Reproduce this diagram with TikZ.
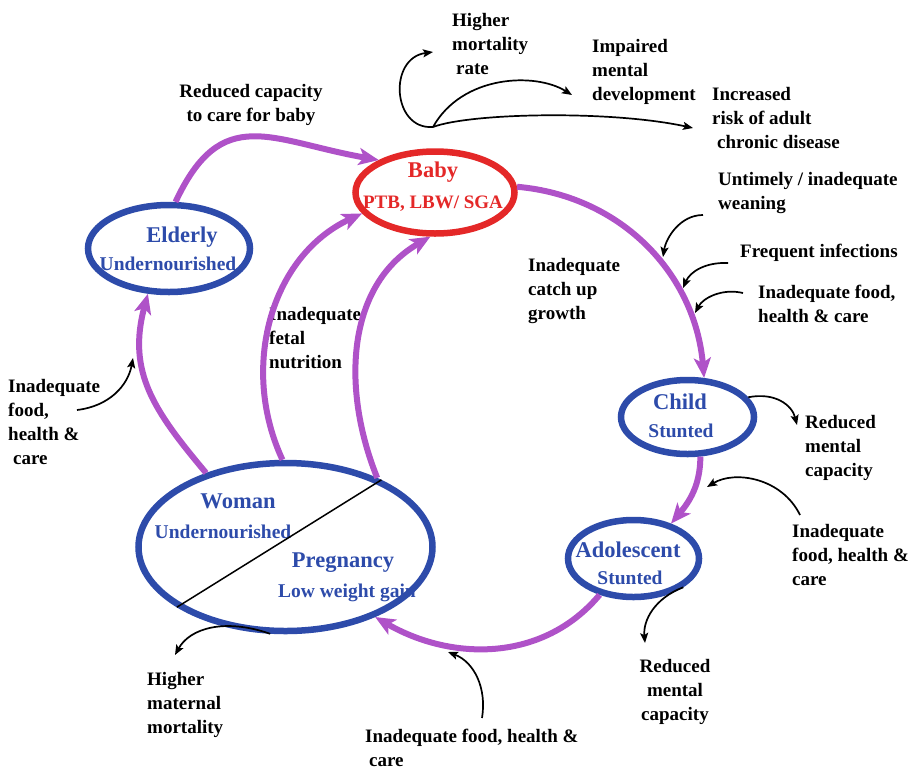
\documentclass[tikz,border=0pt]{standalone}
\usepackage{fontspec}
\setmainfont{Liberation Serif}
\usetikzlibrary{arrows.meta,shapes.geometric}
\definecolor{cycblue}{RGB}{45,75,170}
\definecolor{cycred}{RGB}{228,40,40}
\definecolor{cycpurple}{RGB}{175,82,200}
\begin{document}
\begin{tikzpicture}[x=1pt,y=-1pt,
    lbl/.style={font=\bfseries\fontsize{19}{24}\selectfont,align=left,anchor=base west,inner sep=0},
    ttl/.style={font=\bfseries\fontsize{22.5}{26}\selectfont,text=cycblue,anchor=base,inner sep=0},
    sub/.style={font=\bfseries\fontsize{19.5}{24}\selectfont,text=cycblue,anchor=base,inner sep=0},
    stage/.style={ellipse,draw=cycblue,line width=6.5pt,inner sep=0},
    cyc/.style={draw=cycpurple,line width=6pt,-{Stealth[length=20pt,width=17pt,inset=5pt]}},
    eff/.style={draw=black,line width=1.7pt,-{Stealth[length=10pt,width=8pt,inset=2pt]}}]
    \useasboundingbox (0,0) rectangle (912,769);
    % ellipses
    \node[stage,draw=cycred,minimum width=159,minimum height=82](baby)at(435,192.5){};
    \node[stage,minimum width=162,minimum height=87](eld)at(169,248.5){};
    \node[stage,minimum width=133,minimum height=74](child)at(687.5,417){};
    \node[stage,minimum width=131,minimum height=77](ado)at(633.5,558.5){};
    % texts inside
    \node[ttl,text=cycred](babyt)at(433,177){Baby};
    \node[sub,text=cycred,font=\bfseries\fontsize{19}{24}\selectfont](babys)at(433,208){PTB, LBW/ SGA};
    \node[ttl](eldt)at(182,242){Elderly};
    \node[sub](elds)at(168,270){Undernourished};
    \node[ttl](childt)at(680,409){Child};
    \node[sub](childs)at(681,437){Stunted};
    \node[ttl](adot)at(628,557){Adolescent};
    \node[sub](ados)at(630,584){Stunted};
    \node[ttl](womt)at(238,508){Woman};
    \node[sub](woms)at(223,538){Undernourished};
    \node[ttl](pregt)at(343,567){Pregnancy};
    \node[sub](pregs)at(347,597){Low weight gain};
    \node[stage,minimum width=294,minimum height=168](wom)at(285.5,547){};
    \draw[line width=1.5pt](wom.209.6)--(wom.35);
    % outside labels (base = last line)
    \node[lbl](mort)at(452,74){Higher\\mortality\\\hspace*{4pt}rate};
    \node[lbl](ment)at(592,100){Impaired\\mental\\development};
    \node[lbl](chron)at(712,148){Increased\\risk of adult\\\hspace*{5pt}chronic disease};
    \node[lbl,align=center,anchor=base](care)at(251,121){Reduced capacity\\to care for baby};
    \node[lbl](wean)at(718,209){Untimely / inadequate\\weaning};
    \node[lbl](infc)at(740,257){Frequent infections};
    \node[lbl](food1)at(758,322){Inadequate food,\\health \& care};
    \node[lbl](catch)at(528,319){Inadequate\\catch up\\growth};
    \node[lbl](fetal)at(269,368){Inadequate\\fetal\\nutrition};
    \node[lbl](food2)at(8,464){Inadequate\\food,\\health \&\\\hspace*{5pt}care};
    \node[lbl](ment1)at(805,476){Reduced\\mental\\capacity};
    \node[lbl](food3)at(792,585){Inadequate\\food, health \&\\care};
    \node[lbl,align=center,anchor=base](ment2)at(675,720){Reduced\\mental\\capacity};
    \node[lbl](matm)at(147,733){Higher\\maternal\\mortality};
    \node[lbl](food4)at(365,766){Inadequate food, health \&\\\hspace*{4pt}care};
    % cycle
    \draw[cyc](eld.82)to[out=65,in=170,looseness=1.35](baby.150);
    \draw[cyc](baby.4)to[out=-5,in=95](child.67);
    \draw[cyc](child.-72)to[out=-90,in=50](ado.43);
    \draw[cyc](ado.227)to[out=-130,in=-30](wom.-38);
    \draw[cyc](wom.137)to[out=130,in=-105,looseness=1.1](eld.245);
    \draw[cyc](wom.92)to[out=115,in=-155](baby.196);
    \draw[cyc](wom.37)to[out=112,in=-150](baby.264);
    % black arrows
    \coordinate(o)at(433,127);
    \coordinate(t1)at(433,52);
    \coordinate(t2)at(572,95);
    \coordinate(t3)at(693,128);
    \coordinate(s4)at(703,215);\coordinate(t4)at(663,257);
    \coordinate(s5)at(728,263);\coordinate(t5)at(683,288);
    \coordinate(s6)at(743,293);\coordinate(t6)at(695,313);
    \coordinate(s7)at(77,410);\coordinate(t7)at(133,358);
    \coordinate(t8)at(797,425);
    \coordinate(s9)at(800,515);\coordinate(t9)at(707,487);
    \coordinate(t10)at(645,643);
    \coordinate(s11)at(482,718);\coordinate(t11)at(448,652);
    \coordinate(t12)at(175,655);
    \draw[eff](o)..controls(392,130)and(388,58)..(t1);
    \draw[eff](o)..controls(462,75)and(535,72)..(t2);
    \draw[eff](o)..controls(470,113)and(610,110)..(t3);
    \draw[eff](s4)..controls(680,215)and(666,238)..(t4);
    \draw[eff](s5)..controls(705,262)and(690,272)..(t5);
    \draw[eff](s6)..controls(722,288)and(703,298)..(t6);
    \draw[eff](s7)..controls(110,406)and(128,385)..(t7);
    \draw[eff](child.18)..controls(775,392)and(792,405)..(t8);
    \draw[eff](s9)..controls(782,478)and(735,470)..(t9);
    \draw[eff](ado.-30)..controls(655,598)and(643,620)..(t10);
    \draw[eff](s11)..controls(487,688)and(474,662)..(t11);
    \draw[eff](wom.-100)..controls(225,618)and(190,628)..(t12);
\end{tikzpicture}
\end{document}
